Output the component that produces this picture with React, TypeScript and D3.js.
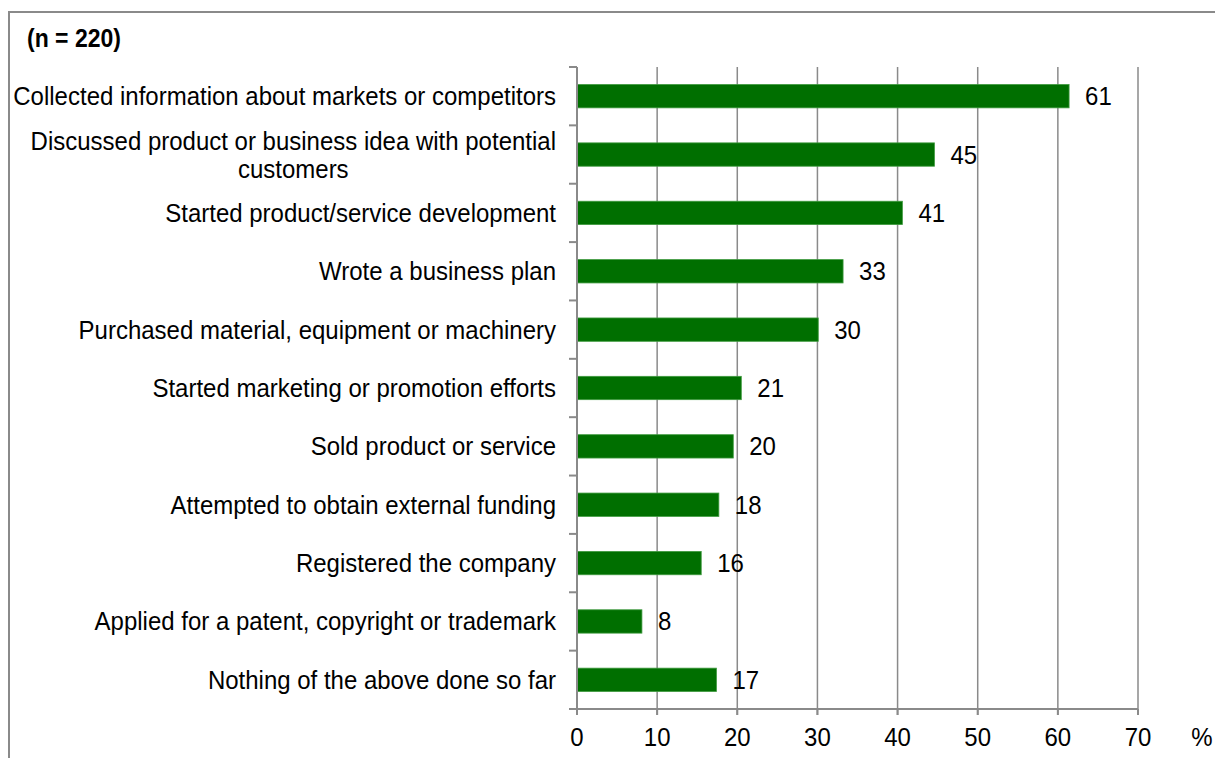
import React, { useEffect, useRef } from "react";
import * as d3 from "d3";

const categories: string[][] = [
  ["Collected information about markets or competitors"],
  ["Discussed product or business idea with potential", "customers"],
  ["Started product/service development"],
  ["Wrote a business plan"],
  ["Purchased material, equipment or machinery"],
  ["Started marketing or promotion efforts"],
  ["Sold product or service"],
  ["Attempted to obtain external funding"],
  ["Registered the company"],
  ["Applied for a patent, copyright or trademark"],
  ["Nothing of the above done so far"],
];
const values: number[] = [61.4, 44.6, 40.6, 33.2, 30.1, 20.5, 19.5, 17.7, 15.5, 8.1, 17.4];
const valueLabels: string[] = ["61", "45", "41", "33", "30", "21", "20", "18", "16", "8", "17"];
const xTicks: number[] = [0, 10, 20, 30, 40, 50, 60, 70];
const sampleNote = "(n = 220)";
const unitLabel = "%";

export default function App() {
  const ref = useRef<SVGSVGElement>(null);

  useEffect(() => {
    document.body.style.margin = "0";
    const svg = d3.select(ref.current);
    svg.selectAll("*").remove();

    const font = "'Liberation Sans', Arial, sans-serif";
    const fs = 24;
    const sy = 1.1;
    const gray = "#8a8a8a";
    const left = 577, right = 1138, top = 67, bottom = 709;
    const tf = (px: number, py: number) => `translate(${px},${py}) scale(1,${sy})`;

    const x = d3.scaleLinear().domain([0, 70]).range([left, right]);
    const idx = categories.map((_, i) => String(i));
    const y = d3.scaleBand().domain(idx).range([top, bottom]).paddingInner(0.6).paddingOuter(0.3);
    const yEdges = d3.scaleBand().domain(idx).range([top, bottom]);

    // frame
    svg.append("rect")
      .attr("x", 9).attr("y", 12).attr("width", 1300).attr("height", 900)
      .attr("fill", "none").attr("stroke", gray).attr("stroke-width", 2);

    // note
    svg.append("text").attr("transform", tf(27, 47))
      .attr("font-family", font).attr("font-size", 23).attr("font-weight", "bold")
      .attr("fill", "#000").text(sampleNote);

    // gridlines
    svg.append("g").selectAll("line").data(xTicks.slice(1)).join("line")
      .attr("x1", d => x(d)).attr("x2", d => x(d))
      .attr("y1", top).attr("y2", bottom + 6)
      .attr("stroke", gray).attr("stroke-width", 1.5);

    // bars
    svg.append("g").selectAll("rect").data(values).join("rect")
      .attr("x", x(0))
      .attr("y", (_, i) => y(String(i))!)
      .attr("width", d => x(d) - x(0))
      .attr("height", y.bandwidth())
      .attr("fill", "#006f00")
      .attr("stroke", "#3f9a3f").attr("stroke-width", 0.8);

    // y axis line and ticks
    svg.append("line").attr("x1", left).attr("x2", left).attr("y1", top).attr("y2", bottom)
      .attr("stroke", gray).attr("stroke-width", 2);
    const edges = idx.map(d => yEdges(d)!).concat([bottom]);
    svg.append("g").selectAll("line").data(edges).join("line")
      .attr("x1", left - 8).attr("x2", left).attr("y1", d => d).attr("y2", d => d)
      .attr("stroke", gray).attr("stroke-width", 2);

    // x axis
    svg.append("line").attr("x1", left - 7).attr("x2", right).attr("y1", bottom).attr("y2", bottom)
      .attr("stroke", gray).attr("stroke-width", 2);
    svg.append("g").selectAll("line").data(xTicks).join("line")
      .attr("x1", d => x(d)).attr("x2", d => x(d)).attr("y1", bottom).attr("y2", bottom + 6)
      .attr("stroke", gray).attr("stroke-width", 2);
    svg.append("g").selectAll("text").data(xTicks).join("text")
      .attr("transform", d => tf(x(d), 746))
      .attr("text-anchor", "middle").attr("font-family", font).attr("font-size", fs)
      .attr("fill", "#000").text(d => String(d));
    svg.append("text").attr("transform", tf(1202, 746)).attr("text-anchor", "middle")
      .attr("font-family", font).attr("font-size", fs).attr("fill", "#000").text(unitLabel);

    // value labels
    svg.append("g").selectAll("text").data(values).join("text")
      .attr("transform", (d, i) => tf(x(d) + 16, y(String(i))! + y.bandwidth() / 2 + 9))
      .attr("font-family", font).attr("font-size", fs).attr("fill", "#000")
      .text((_, i) => valueLabels[i]);

    // category labels
    const labelRight = 556;
    const lineH = 28;
    categories.forEach((lines, i) => {
      const cy = y(String(i))! + y.bandwidth() / 2;
      const y0 = cy + 9 - ((lines.length - 1) * lineH) / 2;
      const first = svg.append("text")
        .attr("transform", tf(labelRight, y0)).attr("text-anchor", "end")
        .attr("font-family", font).attr("font-size", fs).attr("fill", "#000")
        .text(lines[0]);
      const w = (first.node() as SVGTextElement).getComputedTextLength();
      for (let k = 1; k < lines.length; k++) {
        svg.append("text")
          .attr("transform", tf(labelRight - w / 2, y0 + k * lineH)).attr("text-anchor", "middle")
          .attr("font-family", font).attr("font-size", fs).attr("fill", "#000")
          .text(lines[k]);
      }
    });
  }, []);

  return <svg ref={ref} width={1215} height={758} style={{ display: "block", background: "#fff" }} />;
}
